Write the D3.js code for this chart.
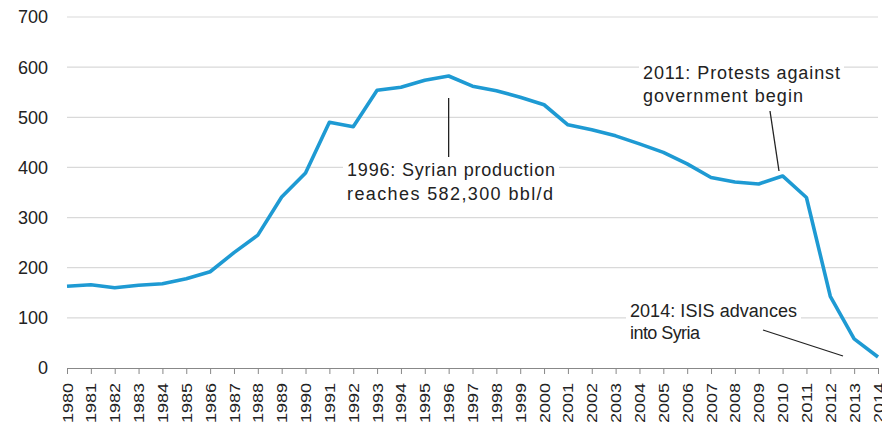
<!DOCTYPE html>
<html><head><meta charset="utf-8">
<script src="https://cdn.jsdelivr.net/npm/d3@7"></script>
<style>body{margin:0;background:#fff}svg{display:block}text{font-family:"Liberation Sans",Arial,sans-serif}</style>
</head><body><svg id="c" width="882" height="430"></svg>
<script>
const years = d3.range(1980, 2015).map(String);
const production = [163,166,160,165,168,178,192,230,265,341,389,490,481,554,560,574,582.3,562,553,540,525,485,475,463,447,430,407,380,371,367,383,340,143,58,22];
const yTicks = [0,100,200,300,400,500,600,700];
const notes = [
  {lines:["1996: Syrian production","reaches 582,300 bbl/d"]},
  {lines:["2011: Protests against","government  begin"]},
  {lines:["2014: ISIS advances","into Syria"]}
];

const svg = d3.select("#c");
const x = d3.scalePoint().domain(years).range([67, 878]);
const y = d3.scaleLinear().domain([0, 700]).range([368, 17]);

svg.append("g").selectAll("line").data(yTicks.filter(d=>d>0)).join("line")
  .attr("x1",67).attr("x2",878).attr("y1",d=>y(d)).attr("y2",d=>y(d))
  .attr("stroke","#d9d9d9").attr("stroke-width",1.2);

svg.append("g").selectAll("text").data(yTicks).join("text")
  .attr("x",48).attr("y",d=>y(d)).attr("dy","0.36em").attr("text-anchor","end")
  .attr("font-size",18).attr("fill","#222").text(d=>d);

const xa = svg.append("g").attr("transform","translate(0,368)")
  .call(d3.axisBottom(x).tickSize(6).tickSizeOuter(0).tickPadding(8));
xa.select(".domain").attr("stroke","#888");
xa.selectAll(".tick line").attr("stroke","#888");
xa.selectAll(".tick text")
  .attr("transform","rotate(-90)").attr("text-anchor","end")
  .attr("x",-15).attr("y",0).attr("dy","0.36em")
  .attr("font-size",14).attr("fill","#222")
  .attr("textLength",40).attr("lengthAdjust","spacingAndGlyphs")
  .style("font-family","'Liberation Sans',Arial,sans-serif");

svg.append("path").datum(production)
  .attr("fill","none").attr("stroke","#1e9ad3").attr("stroke-width",3.6)
  .attr("stroke-linejoin","round")
  .attr("d", d3.line().x((d,i)=>x(years[i])).y(d=>y(d)));

const ann = [
  {x:347, y:[170,194], w:[208,206], line:[x("1996"),98,x("1996"),157]},
  {x:643, y:[73,96], w:[197,160], line:[770,111,779,171]},
  {x:630, y:[311,333], w:[167,70], line:[763,330,843,356]}
];
ann.forEach((a,k)=>{
  const g = svg.append("g");
  g.append("rect").attr("x",a.x-4).attr("y",a.y[0]-13).attr("width",d3.max(a.w)+8)
    .attr("height",a.y[1]-a.y[0]+26).attr("fill","#fff");
  notes[k].lines.forEach((t,j)=>{
    g.append("text").attr("x",a.x).attr("y",a.y[j]).attr("dy","0.36em")
      .attr("font-size",18).attr("fill","#222")
      .attr("textLength",a.w[j]).attr("lengthAdjust","spacing").text(t);
  });
  svg.append("line").attr("x1",a.line[0]).attr("y1",a.line[1]).attr("x2",a.line[2]).attr("y2",a.line[3])
    .attr("stroke","#222").attr("stroke-width",1.3);
});
</script></body></html>
